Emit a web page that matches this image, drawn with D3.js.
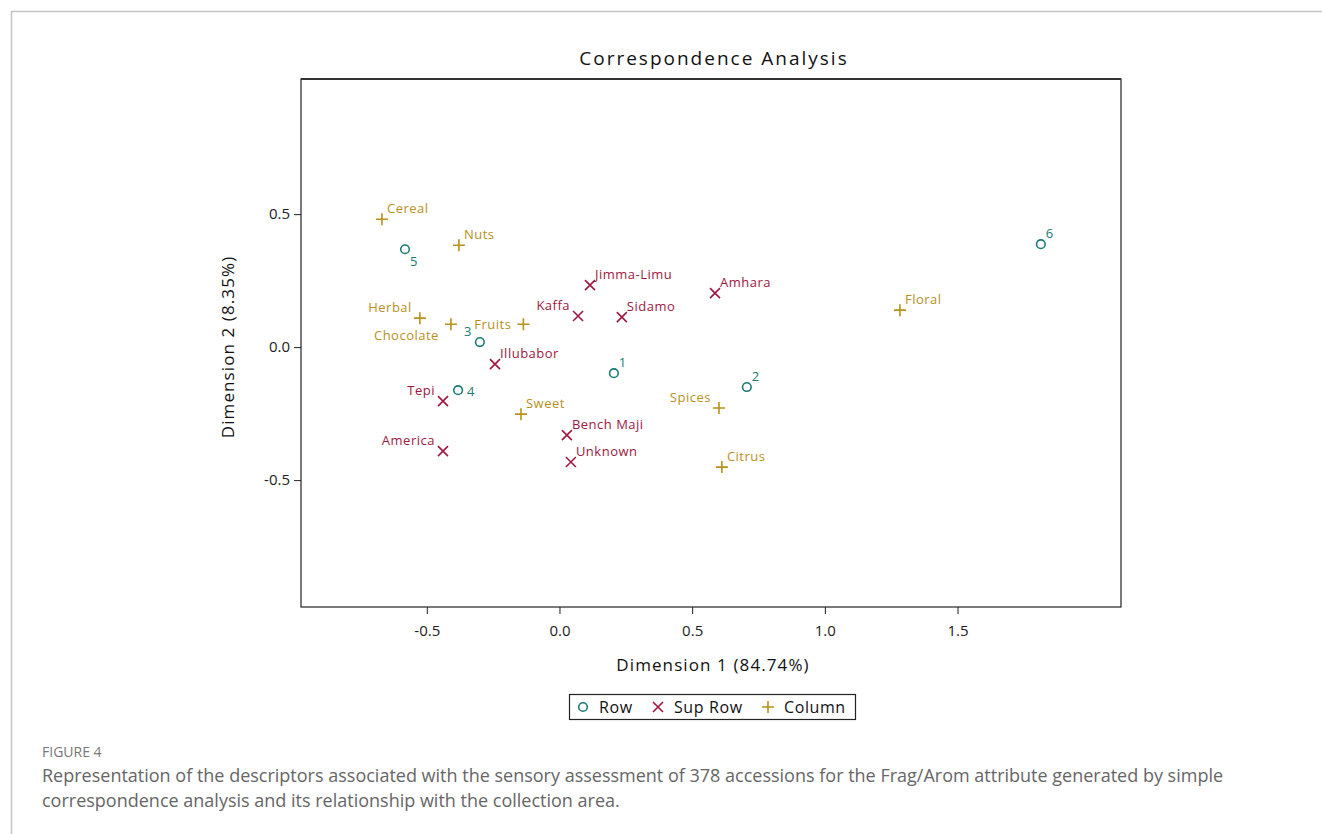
<!DOCTYPE html>
<html>
<head>
<meta charset="utf-8">
<script src="https://cdn.jsdelivr.net/npm/d3@7"></script>
<style>
  body { margin: 0; background: #fff; }
  svg { display: block; }
  text { font-family: "Open Sans", "Noto Sans", sans-serif; }
</style>
</head>
<body>
<svg id="chart" width="1322" height="834"></svg>
<script>
// ---------- data ----------
const rowNames = ["1", "2", "3", "4", "5", "6"];
const rowDim1 = [0.205, 0.706, -0.300, -0.382, -0.582, 1.814];
const rowDim2 = [-0.098, -0.150, 0.019, -0.162, 0.368, 0.387];

const supNames = ["Jimma-Limu", "Amhara", "Kaffa", "Sidamo", "Illubabor", "Tepi", "America", "Bench Maji", "Unknown"];
const supDim1 = [0.115, 0.586, 0.070, 0.235, -0.243, -0.439, -0.439, 0.028, 0.043];
const supDim2 = [0.233, 0.203, 0.117, 0.113, -0.064, -0.203, -0.391, -0.331, -0.432];

const colNames = ["Cereal", "Nuts", "Herbal", "Chocolate", "Fruits", "Sweet", "Spices", "Citrus", "Floral"];
const colDim1 = [-0.669, -0.379, -0.526, -0.409, -0.136, -0.145, 0.601, 0.612, 1.283];
const colDim2 = [0.481, 0.383, 0.109, 0.086, 0.086, -0.252, -0.229, -0.451, 0.139];

const xTicks = [-0.5, 0.0, 0.5, 1.0, 1.5];
const yTicks = [-0.5, 0.0, 0.5];
const legendLabels = ["Row", "Sup Row", "Column"];

// ---------- styles / label placement ----------
const colors = { Row: "#1c7a75", "Sup Row": "#a0173f", Column: "#b8901b" };
// label placement: tr = top-right, tl = top-left, br = bottom-right, bl = bottom-left, l = left, r = right
const placement = {
  "1": "tr", "2": "tr", "3": "tl", "4": "r", "5": "br", "6": "tr",
  "Jimma-Limu": "tr", "Amhara": "tr", "Kaffa": "tl", "Sidamo": "tr", "Illubabor": "tr",
  "Tepi": "tl", "America": "tl", "Bench Maji": "tr", "Unknown": "tr",
  "Cereal": "tr", "Nuts": "tr", "Herbal": "tl", "Chocolate": "bl", "Fruits": "l",
  "Sweet": "tr", "Spices": "tl", "Citrus": "tr", "Floral": "tr"
};

const svg = d3.select("#chart");

// outer figure border
svg.append("line").attr("x1", 11).attr("x2", 1322).attr("y1", 11.5).attr("y2", 11.5)
  .attr("stroke", "#c4c4c4").attr("stroke-width", 1.5);
svg.append("line").attr("x1", 11.5).attr("x2", 11.5).attr("y1", 11).attr("y2", 834)
  .attr("stroke", "#c4c4c4").attr("stroke-width", 1.5);

const plot = { left: 301, right: 1121, top: 79, bottom: 607 };

const x = d3.scaleLinear().domain([-0.974, 2.116]).range([plot.left, plot.right]);
const y = d3.scaleLinear().domain([-0.977, 1.008]).range([plot.bottom, plot.top]);

const fmt = d => d3.format(".1f")(d).replace("\u2212", "-");

// title
svg.append("text").attr("x", 714).attr("y", 65).attr("text-anchor", "middle")
  .attr("font-size", 19).attr("letter-spacing", 2).attr("fill", "#111")
  .text("Correspondence Analysis");

// frame
svg.append("rect").attr("x", plot.left).attr("y", plot.top)
  .attr("width", plot.right - plot.left).attr("height", plot.bottom - plot.top)
  .attr("fill", "none").attr("stroke", "#222").attr("stroke-width", 1.2);
svg.append("line").attr("x1", plot.left).attr("x2", plot.right).attr("y1", plot.top).attr("y2", plot.top)
  .attr("stroke", "#333").attr("stroke-width", 2);

// axes
const xAxis = d3.axisBottom(x).tickValues(xTicks).tickFormat(fmt).tickSize(7).tickSizeOuter(0);
const gx = svg.append("g").attr("transform", `translate(0,${plot.bottom})`).call(xAxis);
gx.select(".domain").remove();
gx.selectAll("line").attr("stroke", "#222");
gx.selectAll("text").attr("font-size", 15).attr("fill", "#222").attr("dy", "1.25em")
  .attr("font-family", "'Open Sans', sans-serif");

const yAxis = d3.axisLeft(y).tickValues(yTicks).tickFormat(fmt).tickSize(7).tickSizeOuter(0);
const gy = svg.append("g").attr("transform", `translate(${plot.left},0)`).call(yAxis);
gy.select(".domain").remove();
gy.selectAll("line").attr("stroke", "#222");
gy.selectAll("text").attr("font-size", 15).attr("fill", "#222").attr("x", -11)
  .attr("font-family", "'Open Sans', sans-serif");

// axis titles
svg.append("text").attr("x", 713).attr("y", 671).attr("text-anchor", "middle")
  .attr("font-size", 17).attr("letter-spacing", 1.1).attr("fill", "#111")
  .text("Dimension 1 (84.74%)");
svg.append("text").attr("transform", "translate(234,347) rotate(-90)").attr("text-anchor", "middle")
  .attr("font-size", 17).attr("letter-spacing", 1.1).attr("fill", "#111")
  .text("Dimension 2 (8.35%)");

// marker drawing
function drawMarker(g, type, cx, cy) {
  const c = colors[type];
  if (type === "Row") {
    g.append("circle").attr("cx", cx).attr("cy", cy).attr("r", 4.3)
      .attr("fill", "none").attr("stroke", c).attr("stroke-width", 1.6);
  } else if (type === "Sup Row") {
    const s = 5;
    g.append("path").attr("d", `M${cx - s},${cy - s}L${cx + s},${cy + s}M${cx - s},${cy + s}L${cx + s},${cy - s}`)
      .attr("stroke", c).attr("stroke-width", 1.6).attr("fill", "none");
  } else {
    const s = 6;
    g.append("path").attr("d", `M${cx - s},${cy}L${cx + s},${cy}M${cx},${cy - s}L${cx},${cy + s}`)
      .attr("stroke", c).attr("stroke-width", 1.6).attr("fill", "none");
  }
}

function drawLabel(g, type, name, cx, cy) {
  const p = placement[name] || "tr";
  let dx = 6, dy = -6, anchor = "start";
  if (p === "tr") { dx = 5; dy = -6; anchor = "start"; }
  else if (p === "tl") { dx = -8; dy = -6; anchor = "end"; }
  else if (p === "br") { dx = 5; dy = 17; anchor = "start"; }
  else if (p === "bl") { dx = -12; dy = 16; anchor = "end"; }
  else if (p === "l") { dx = -12; dy = 5; anchor = "end"; }
  else if (p === "r") { dx = 9; dy = 6; anchor = "start"; }
  g.append("text").attr("x", cx + dx).attr("y", cy + dy).attr("text-anchor", anchor)
    .attr("font-size", 13).attr("letter-spacing", 0.5).attr("fill", colors[type]).text(name);
}

const gPts = svg.append("g");
function drawSeries(type, names, d1, d2) {
  names.forEach((n, i) => {
    const cx = x(d1[i]), cy = y(d2[i]);
    drawMarker(gPts, type, cx, cy);
    drawLabel(gPts, type, n, cx, cy);
  });
}
drawSeries("Column", colNames, colDim1, colDim2);
drawSeries("Sup Row", supNames, supDim1, supDim2);
drawSeries("Row", rowNames, rowDim1, rowDim2);

// legend
const lg = svg.append("g");
lg.append("rect").attr("x", 569.5).attr("y", 694.5).attr("width", 286).attr("height", 25)
  .attr("fill", "#fff").attr("stroke", "#222").attr("stroke-width", 1.2);
const legendX = [583, 658, 768];
const legendTypes = ["Row", "Sup Row", "Column"];
legendTypes.forEach((t, i) => {
  drawMarker(lg, t, legendX[i], 707);
  lg.append("text").attr("x", legendX[i] + 16).attr("y", 713).attr("font-size", 16)
    .attr("letter-spacing", 0.6).attr("fill", "#111").text(legendLabels[i]);
});

// caption
svg.append("text").attr("x", 42).attr("y", 757).attr("font-size", 14).attr("fill", "#777")
  .attr("font-family", "Lato, 'Open Sans', sans-serif").text("FIGURE 4");
svg.append("text").attr("x", 42).attr("y", 782).attr("font-size", 18).attr("fill", "#666")
  .attr("font-family", "Lato, 'Open Sans', sans-serif")
  .text("Representation of the descriptors associated with the sensory assessment of 378 accessions for the Frag/Arom attribute generated by simple");
svg.append("text").attr("x", 42).attr("y", 807).attr("font-size", 18).attr("fill", "#666")
  .attr("font-family", "Lato, 'Open Sans', sans-serif")
  .text("correspondence analysis and its relationship with the collection area.");
</script>
</body>
</html>
